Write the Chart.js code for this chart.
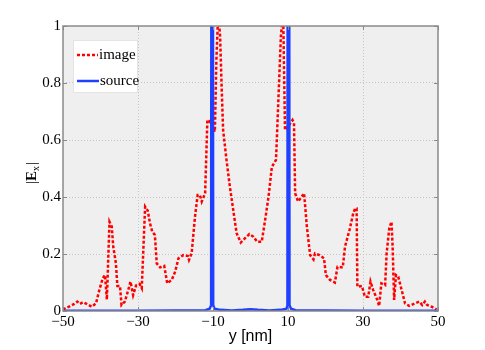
<!DOCTYPE html>
<html>
<head>
<meta charset="utf-8">
<script src="https://cdn.jsdelivr.net/npm/chart.js@4.4.1/dist/chart.umd.min.js"></script>
<style>
  html, body { margin: 0; padding: 0; background: #fff; }
  #fieldChart { display: block; }
</style>
</head>
<body>
<canvas id="fieldChart" width="485" height="350"></canvas>
<script>
// positions along y [nm] and |Ex|
var imageY = [
    -50, -49, -48, -47, -46.2, -45.5, -44.6, -43.7, -42.3, -41.2,
    -40.3, -39.4, -38.8, -38.3, -37.6, -37.0, -36.6, -35.9, -35.5, -34.8,
    -34.4, -33.5, -32.6, -32.0, -31.3, -30.5, -29.6, -29.0, -28.1, -27.4,
    -26.8, -26.2, -25.5, -25.0, -24.1, -23.0, -22.2, -21.0, -20.1, -19.2,
    -17.9, -16.7, -16.4, -15.7, -14.8, -14.1, -13.5, -13.0, -12.1, -11.5,
    -11.1, -10.3, -9.5, -9.1, -8.6, -8.1, -7.7, -7.3, -6.4, -5.5,
    -4.6, -3.7, -2.6, -1.5, -0.3, 0.75, 1.8, 3.0, 3.9, 4.8,
    5.7, 6.8, 7.4, 8.1, 8.7, 9.2, 10.2, 11.2, 11.6, 11.9,
    12.7, 13.6, 14.3, 15.0, 15.9, 16.8, 17.2, 18.4, 19.6, 20.1,
    21.2, 22.5, 23.2, 24.6, 25.2, 26.4, 27.4, 27.9, 28.3, 28.5,
    29.7, 30.5, 31.4, 32.0, 32.7, 33.8, 34.3, 34.9, 35.9, 36.3,
    37.0, 37.6, 37.9, 38.3, 38.8, 39.4, 40.3, 41.2, 42.3, 43.9,
    45.0, 45.8, 46.5, 47.1, 48.3, 49.6
];
var imageE = [
    0.005, 0.012, 0.018, 0.025, 0.033, 0.025, 0.031, 0.025, 0.015, 0.027,
    0.074, 0.115, 0.126, 0.040, 0.313, 0.296, 0.226, 0.168, 0.088, 0.088,
    0.021, 0.033, 0.074, 0.103, 0.056, 0.090, 0.095, 0.080, 0.366, 0.352,
    0.308, 0.278, 0.267, 0.167, 0.153, 0.158, 0.097, 0.109, 0.138, 0.185,
    0.196, 0.193, 0.179, 0.202, 0.331, 0.407, 0.407, 0.384, 0.413, 0.670,
    0.670, 0.650, 0.629, 0.880, 1.050, 0.963, 0.787, 0.635, 0.530, 0.436,
    0.354, 0.273, 0.240, 0.255, 0.270, 0.261, 0.243, 0.243, 0.319, 0.400,
    0.506, 0.530, 0.729, 0.963, 1.050, 0.635, 0.650, 0.670, 0.660, 0.413,
    0.384, 0.400, 0.413, 0.300, 0.196, 0.181, 0.202, 0.196, 0.185, 0.126,
    0.109, 0.100, 0.155, 0.153, 0.226, 0.284, 0.343, 0.360, 0.360, 0.085,
    0.088, 0.050, 0.050, 0.103, 0.074, 0.039, 0.018, 0.097, 0.091, 0.202,
    0.290, 0.313, 0.226, 0.039, 0.126, 0.120, 0.074, 0.027, 0.018, 0.027,
    0.033, 0.021, 0.033, 0.021, 0.015, 0.006
];
var sourceY = [-50, -40, -30, -20, -12, -10.9, -10.5, -10.25, -9.95, -9.6, -8, -5, -2, 0, 2, 5, 8, 9.6, 9.85, 10.1, 10.4, 10.8, 12, 20, 30, 40, 50];
var sourceE = [0.001, 0.001, 0.001, 0.002, 0.003, 0.008, 0.02, 5.0, 0.02, 0.008, 0.004, 0.002, 0.004, 0.006, 0.004, 0.002, 0.004, 0.008, 0.02, 5.0, 0.02, 0.008, 0.003, 0.002, 0.001, 0.001, 0.001];
var xTickValues = [-50, -30, -10, 10, 30, 50];
var yTickValues = [0, 0.2, 0.4, 0.6, 0.8, 1];
var seriesNames = ['image', 'source'];

var serif = "'Liberation Serif', 'Times New Roman', serif";
var sans = "'Liberation Sans', Arial, sans-serif";
var redColor = '#ff0000';
var blueColor = '#2040ff';
var axisColor = '#8a8a8a';

function toPoints(xs, ys) {
    return xs.map(function (x, i) { return { x: x, y: ys[i] }; });
}

// grey plot area behind the data
var plotBackground = {
    id: 'plotBackground',
    beforeDraw: function (chart) {
        var ctx = chart.ctx, a = chart.chartArea;
        ctx.save();
        ctx.fillStyle = '#fff';
        ctx.fillRect(0, 0, chart.width, chart.height);
        ctx.fillStyle = '#efefef';
        ctx.fillRect(a.left, a.top, a.right - a.left, a.bottom - a.top);
        ctx.restore();
    }
};

// MATLAB style frame, inward ticks, legend and the |Ex| label
var matlabFrame = {
    id: 'matlabFrame',
    afterDraw: function (chart) {
        var ctx = chart.ctx, a = chart.chartArea;
        var xs = chart.scales.x, ys = chart.scales.y;
        ctx.save();
        ctx.strokeStyle = axisColor;
        ctx.lineWidth = 1.5;
        ctx.strokeRect(a.left, a.top, a.right - a.left, a.bottom - a.top);

        ctx.lineWidth = 1;
        ctx.beginPath();
        xTickValues.forEach(function (v) {
            var px = Math.round(xs.getPixelForValue(v)) + 0.5;
            ctx.moveTo(px, a.bottom); ctx.lineTo(px, a.bottom - 4);
            ctx.moveTo(px, a.top); ctx.lineTo(px, a.top + 4);
        });
        yTickValues.forEach(function (v) {
            var py = Math.round(ys.getPixelForValue(v)) + 0.5;
            ctx.moveTo(a.left, py); ctx.lineTo(a.left + 4, py);
            ctx.moveTo(a.right, py); ctx.lineTo(a.right - 4, py);
        });
        ctx.stroke();

        // legend box
        ctx.fillStyle = '#fff';
        ctx.fillRect(73, 40, 65, 53);
        ctx.strokeStyle = '#e4e4e4';
        ctx.lineWidth = 1;
        ctx.strokeRect(73.5, 40.5, 64, 52);

        ctx.lineWidth = 2.5;
        ctx.strokeStyle = redColor;
        ctx.setLineDash([3, 2]);
        ctx.beginPath();
        ctx.moveTo(77, 55); ctx.lineTo(98, 55);
        ctx.stroke();
        ctx.setLineDash([]);
        ctx.strokeStyle = blueColor;
        ctx.beginPath();
        ctx.moveTo(77, 81); ctx.lineTo(99, 81);
        ctx.stroke();

        ctx.fillStyle = '#000';
        ctx.font = '15px ' + serif;
        ctx.textBaseline = 'middle';
        ctx.textAlign = 'left';
        ctx.fillText(seriesNames[0], 99, 55);
        ctx.fillText(seriesNames[1], 100, 81);

        // y label |Ex|
        ctx.translate(32, 173);
        ctx.rotate(-Math.PI / 2);
        ctx.textBaseline = 'middle';
        ctx.font = '15px ' + serif;
        var w1 = ctx.measureText('|').width;
        ctx.font = 'bold 15px ' + serif;
        var wE = ctx.measureText('E').width;
        ctx.font = '10px ' + serif;
        var wx = ctx.measureText('x').width;
        var total = w1 * 2 + wE + wx + 1;
        var cx = -total / 2;
        ctx.font = '15px ' + serif;
        ctx.fillText('|', cx, 0); cx += w1;
        ctx.font = 'bold 15px ' + serif;
        ctx.fillText('E', cx, 0); cx += wE;
        ctx.font = '10px ' + serif;
        ctx.fillText('x', cx, 4); cx += wx + 1;
        ctx.font = '15px ' + serif;
        ctx.fillText('|', cx, 0);
        ctx.restore();
    }
};

var ctx = document.getElementById('fieldChart').getContext('2d');
new Chart(ctx, {
    type: 'line',
    data: {
        datasets: [{
            label: seriesNames[0],
            data: toPoints(imageY, imageE),
            borderColor: redColor,
            borderWidth: 2.5,
            borderDash: [3, 2],
            pointRadius: 0,
            tension: 0,
            fill: false,
            order: 1
        }, {
            label: seriesNames[1],
            data: toPoints(sourceY, sourceE),
            borderColor: blueColor,
            borderWidth: 2.5,
            pointRadius: 0,
            tension: 0,
            fill: false,
            order: 0
        }]
    },
    options: {
        responsive: false,
        animation: false,
        devicePixelRatio: 1,
        layout: {
            padding: { top: 26, right: 47, left: 0, bottom: 0 }
        },
        plugins: {
            legend: { display: false },
            tooltip: { enabled: false }
        },
        scales: {
            x: {
                type: 'linear',
                min: -50,
                max: 50,
                afterBuildTicks: function (s) {
                    s.ticks = xTickValues.map(function (v) { return { value: v }; });
                },
                afterFit: function (s) { s.height = 39; },
                ticks: {
                    color: '#000',
                    font: { family: serif, size: 15 },
                    padding: 2,
                    maxRotation: 0,
                    autoSkip: false,
                    callback: function (v) { return String(v).replace('-', '\u2212'); }
                },
                grid: {
                    drawTicks: false,
                    lineWidth: 1,
                    color: function (c) {
                        var v = c.tick ? c.tick.value : 0;
                        return (v === -50 || v === 50) ? 'rgba(0,0,0,0)' : '#c4c4c4';
                    }
                },
                border: { display: false, dash: [1, 2] },
                title: {
                    display: true,
                    text: 'y [nm]',
                    color: '#000',
                    font: { family: sans, size: 16 },
                    padding: { top: 0, bottom: 4 }
                }
            },
            y: {
                type: 'linear',
                min: 0,
                max: 1,
                afterBuildTicks: function (s) {
                    s.ticks = yTickValues.map(function (v) { return { value: v }; });
                },
                afterFit: function (s) { s.width = 63; },
                ticks: {
                    color: '#000',
                    font: { family: serif, size: 15 },
                    padding: 2,
                    callback: function (v) { return String(+v.toFixed(1)); }
                },
                grid: {
                    drawTicks: false,
                    lineWidth: 1,
                    color: function (c) {
                        var v = c.tick ? c.tick.value : 0;
                        return (v === 0 || v === 1) ? 'rgba(0,0,0,0)' : '#c4c4c4';
                    }
                },
                border: { display: false, dash: [1, 2] }
            }
        }
    },
    plugins: [plotBackground, matlabFrame]
});
</script>
</body>
</html>
